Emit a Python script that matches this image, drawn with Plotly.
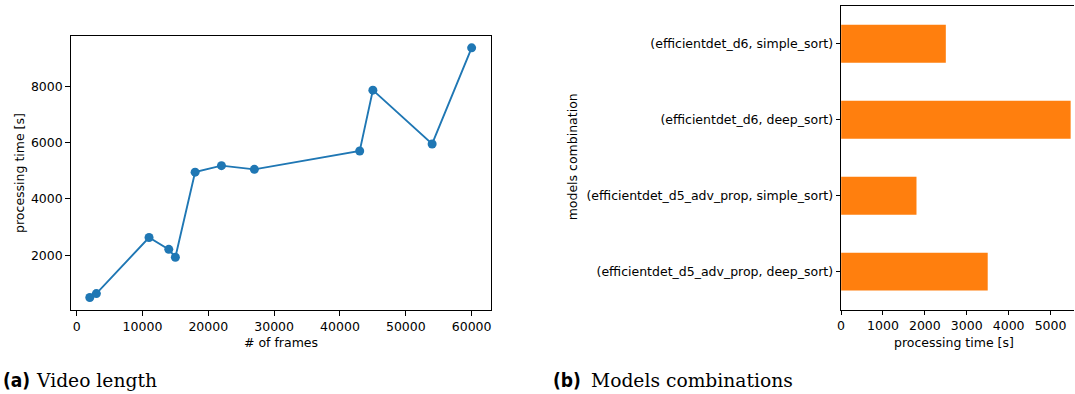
import plotly.graph_objects as go

# Left chart data: video length vs processing time
frames = [2000, 3000, 11000, 14000, 15000, 18000, 22000, 27000, 43000, 45000, 54000, 60000]
proc_time = [500, 640, 2630, 2210, 1930, 4950, 5180, 5050, 5700, 7860, 5950, 9360]

# Right chart data: models combinations (bottom to top)
combos = [
    "(efficientdet_d5_adv_prop, deep_sort)",
    "(efficientdet_d5_adv_prop, simple_sort)",
    "(efficientdet_d6, deep_sort)",
    "(efficientdet_d6, simple_sort)",
]
combo_time = [3500, 1800, 5480, 2500]

x_ticks_left = [0, 10000, 20000, 30000, 40000, 50000, 60000]
y_ticks_left = [2000, 4000, 6000, 8000]
x_ticks_right = [0, 1000, 2000, 3000, 4000, 5000]

W, H = 1075, 394
FONT = "DejaVu Sans"
FS = 12.5
BLUE = "#1f77b4"
ORANGE = "#ff7f0e"

fig = go.Figure()
fig.add_trace(go.Scatter(
    x=frames, y=proc_time, mode="lines+markers",
    line=dict(color=BLUE, width=1.9),
    marker=dict(color=BLUE, size=9),
    xaxis="x", yaxis="y", showlegend=False,
))
fig.add_trace(go.Bar(
    x=combo_time, y=combos, orientation="h", width=0.5,
    marker=dict(color=ORANGE, line=dict(width=0)),
    xaxis="x2", yaxis="y2", showlegend=False,
))

axis_common = dict(
    showgrid=False, zeroline=False, showline=True, linecolor="black", linewidth=1,
    ticks="outside", ticklen=4.5, tickwidth=1, tickcolor="black",
    tickfont=dict(family=FONT, size=FS, color="black"),
)

fig.update_layout(
    width=W, height=H,
    margin=dict(l=0, r=0, t=0, b=0),
    paper_bgcolor="white", plot_bgcolor="white",
    xaxis=dict(domain=[67 / W, 489 / W], range=[-900, 62900], tickformat="d",
               tickvals=x_ticks_left, mirror=True, anchor="y", **axis_common),
    yaxis=dict(domain=[1 - 310 / H, 1 - 35.7 / H], range=[58, 9792], tickformat="d",
               tickvals=y_ticks_left, mirror=True, anchor="x", **axis_common),
    xaxis2=dict(domain=[841 / W, 1.0], range=[0, 5560], tickformat="d",
                tickvals=x_ticks_right, mirror=True, anchor="y2", **axis_common),
    yaxis2=dict(domain=[1 - 309.6 / H, 1 - 5.8 / H], range=[-0.5, 3.5],
                type="category", categoryorder="array", categoryarray=combos,
                mirror=False, anchor="x2", **axis_common),
)

annotations = [
    dict(text="# of frames", x=(67 + 489) / 2 / W, y=1 - 342 / H,
         font=dict(family=FONT, size=FS, color="black")),
    dict(text="processing time [s]", x=15 / W, y=1 - 173 / H, textangle=-90,
         font=dict(family=FONT, size=FS, color="black")),
    dict(text="processing time [s]", x=(841 + 1075) / 2 / W - 0.003, y=1 - 342 / H,
         font=dict(family=FONT, size=FS, color="black")),
    dict(text="models combination", x=572 / W, y=1 - 157 / H, textangle=-90,
         font=dict(family=FONT, size=FS, color="black")),
    dict(text="<b>(a)</b>", x=-3 / W, y=1 - 380 / H, xanchor="left",
         font=dict(family="DejaVu Sans Condensed", size=19, color="black")),
    dict(text="Video length", x=30 / W, y=1 - 380 / H, xanchor="left",
         font=dict(family="DejaVu Serif", size=18.7, color="black")),
    dict(text="<b>(b)</b>", x=550 / W, y=1 - 380 / H, xanchor="left",
         font=dict(family="DejaVu Sans Condensed", size=19, color="black")),
    dict(text="Models combinations", x=588 / W, y=1 - 380 / H, xanchor="left",
         font=dict(family="DejaVu Serif", size=18.7, color="black")),
]
for a in annotations:
    a.setdefault("xanchor", "center")
    a.update(xref="paper", yref="paper", showarrow=False, yanchor="middle")
fig.update_layout(annotations=annotations)

fig.write_html(
    "out.html",
    config={"displayModeBar": False},
    post_script="document.body.style.margin='0px';document.body.style.overflow='hidden';",
)
